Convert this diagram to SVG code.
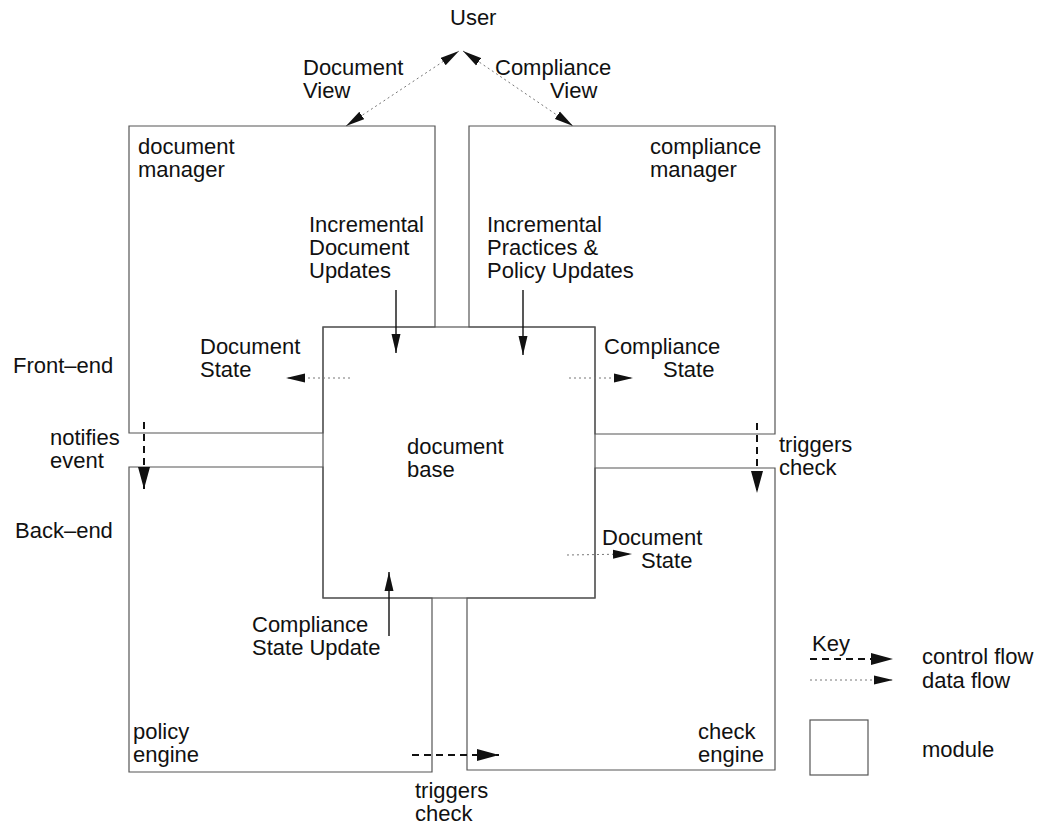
<svg xmlns="http://www.w3.org/2000/svg" width="1043" height="826" viewBox="0 0 1043 826">
<style>
text{font-family:"Liberation Sans",Arial,Helvetica,sans-serif;font-size:22px;fill:#111}
.mod{fill:none;stroke:#555;stroke-width:1.2}
.data{fill:none;stroke:#777;stroke-width:1;stroke-dasharray:2 3;marker-end:url(#hd)}
.solid{fill:none;stroke:#111;stroke-width:1.4;marker-end:url(#hd)}
.ctrl{fill:none;stroke:#111;stroke-width:2;stroke-dasharray:7 5;marker-end:url(#hc)}
</style>
<defs>
<marker id="hd" markerUnits="userSpaceOnUse" markerWidth="19" markerHeight="10" refX="19" refY="5" orient="auto-start-reverse"><path d="M0,0.5 L19,5 L0,9.5 z" fill="#111"/></marker>
<marker id="hc" markerUnits="userSpaceOnUse" markerWidth="22" markerHeight="12" refX="22" refY="6" orient="auto"><path d="M0,0 L22,6 L0,12 z" fill="#111"/></marker>
</defs>
<rect width="1043" height="826" fill="#fff"/>

<g id="document-manager">
<polygon class="mod" points="129,126 435,126 435,327 323,327 323,433 129,433"/>
<text x="138" y="154">document</text>
<text x="138" y="177">manager</text>
</g>
<g id="compliance-manager">
<polygon class="mod" points="469,126 775,126 775,434 595,434 595,327 469,327"/>
<text x="650" y="154">compliance</text>
<text x="650" y="177">manager</text>
</g>
<g id="policy-engine">
<polygon class="mod" points="129,467 323,467 323,598 432,598 432,772 129,772"/>
<text x="133" y="739">policy</text>
<text x="133" y="762">engine</text>
</g>
<g id="check-engine">
<polygon class="mod" points="595,468 775,468 775,770 467,770 467,598 595,598"/>
<text x="698" y="739">check</text>
<text x="698" y="762">engine</text>
</g>
<g id="document-base">
<rect class="mod" x="323" y="327" width="272" height="271"/>
<text x="407" y="454">document</text>
<text x="407" y="477">base</text>
</g>
<g id="user">
<text x="450" y="25">User</text>
</g>

<g id="connectors">
<path class="data" d="M346,126 L459,51" style="marker-start:url(#hd)"/>
<path class="data" d="M463,51 L573,126" style="marker-start:url(#hd)"/>
<path class="solid" d="M396,290 L396,353"/>
<path class="solid" d="M523,290 L523,355"/>
<path class="data" d="M350,378 L286,378"/>
<path class="data" d="M569,378 L633,378"/>
<path class="data" d="M567,555 L632,554"/>
<path class="solid" d="M389,636 L389,572"/>
<path class="ctrl" d="M144,422 L144,489"/>
<path class="ctrl" d="M757,423 L757,493"/>
<path class="ctrl" d="M412,755 L499,755"/>
</g>

<g id="labels">
<text x="303" y="75">Document</text>
<text x="303" y="98">View</text>
<text x="495" y="75">Compliance</text>
<text x="550" y="98">View</text>
<text x="309" y="232">Incremental</text>
<text x="309" y="255">Document</text>
<text x="309" y="278">Updates</text>
<text x="487" y="232">Incremental</text>
<text x="487" y="255">Practices &amp;</text>
<text x="487" y="278">Policy Updates</text>
<text x="200" y="354">Document</text>
<text x="200" y="377">State</text>
<text x="604" y="354">Compliance</text>
<text x="663" y="377">State</text>
<text x="13" y="373">Front–end</text>
<text x="50" y="445">notifies</text>
<text x="50" y="468">event</text>
<text x="15" y="538">Back–end</text>
<text x="779" y="452">triggers</text>
<text x="779" y="475">check</text>
<text x="602" y="545">Document</text>
<text x="641" y="568">State</text>
<text x="252" y="632">Compliance</text>
<text x="252" y="655">State Update</text>
<text x="415" y="798">triggers</text>
<text x="415" y="821">check</text>
</g>

<g id="key">
<text x="812" y="651">Key</text>
<path class="ctrl" d="M810,659 L893,659"/>
<path class="data" d="M810,680 L893,680"/>
<rect class="mod" x="810" y="720" width="58" height="55"/>
<text x="922" y="664">control flow</text>
<text x="922" y="688">data flow</text>
<text x="922" y="757">module</text>
</g>
</svg>
